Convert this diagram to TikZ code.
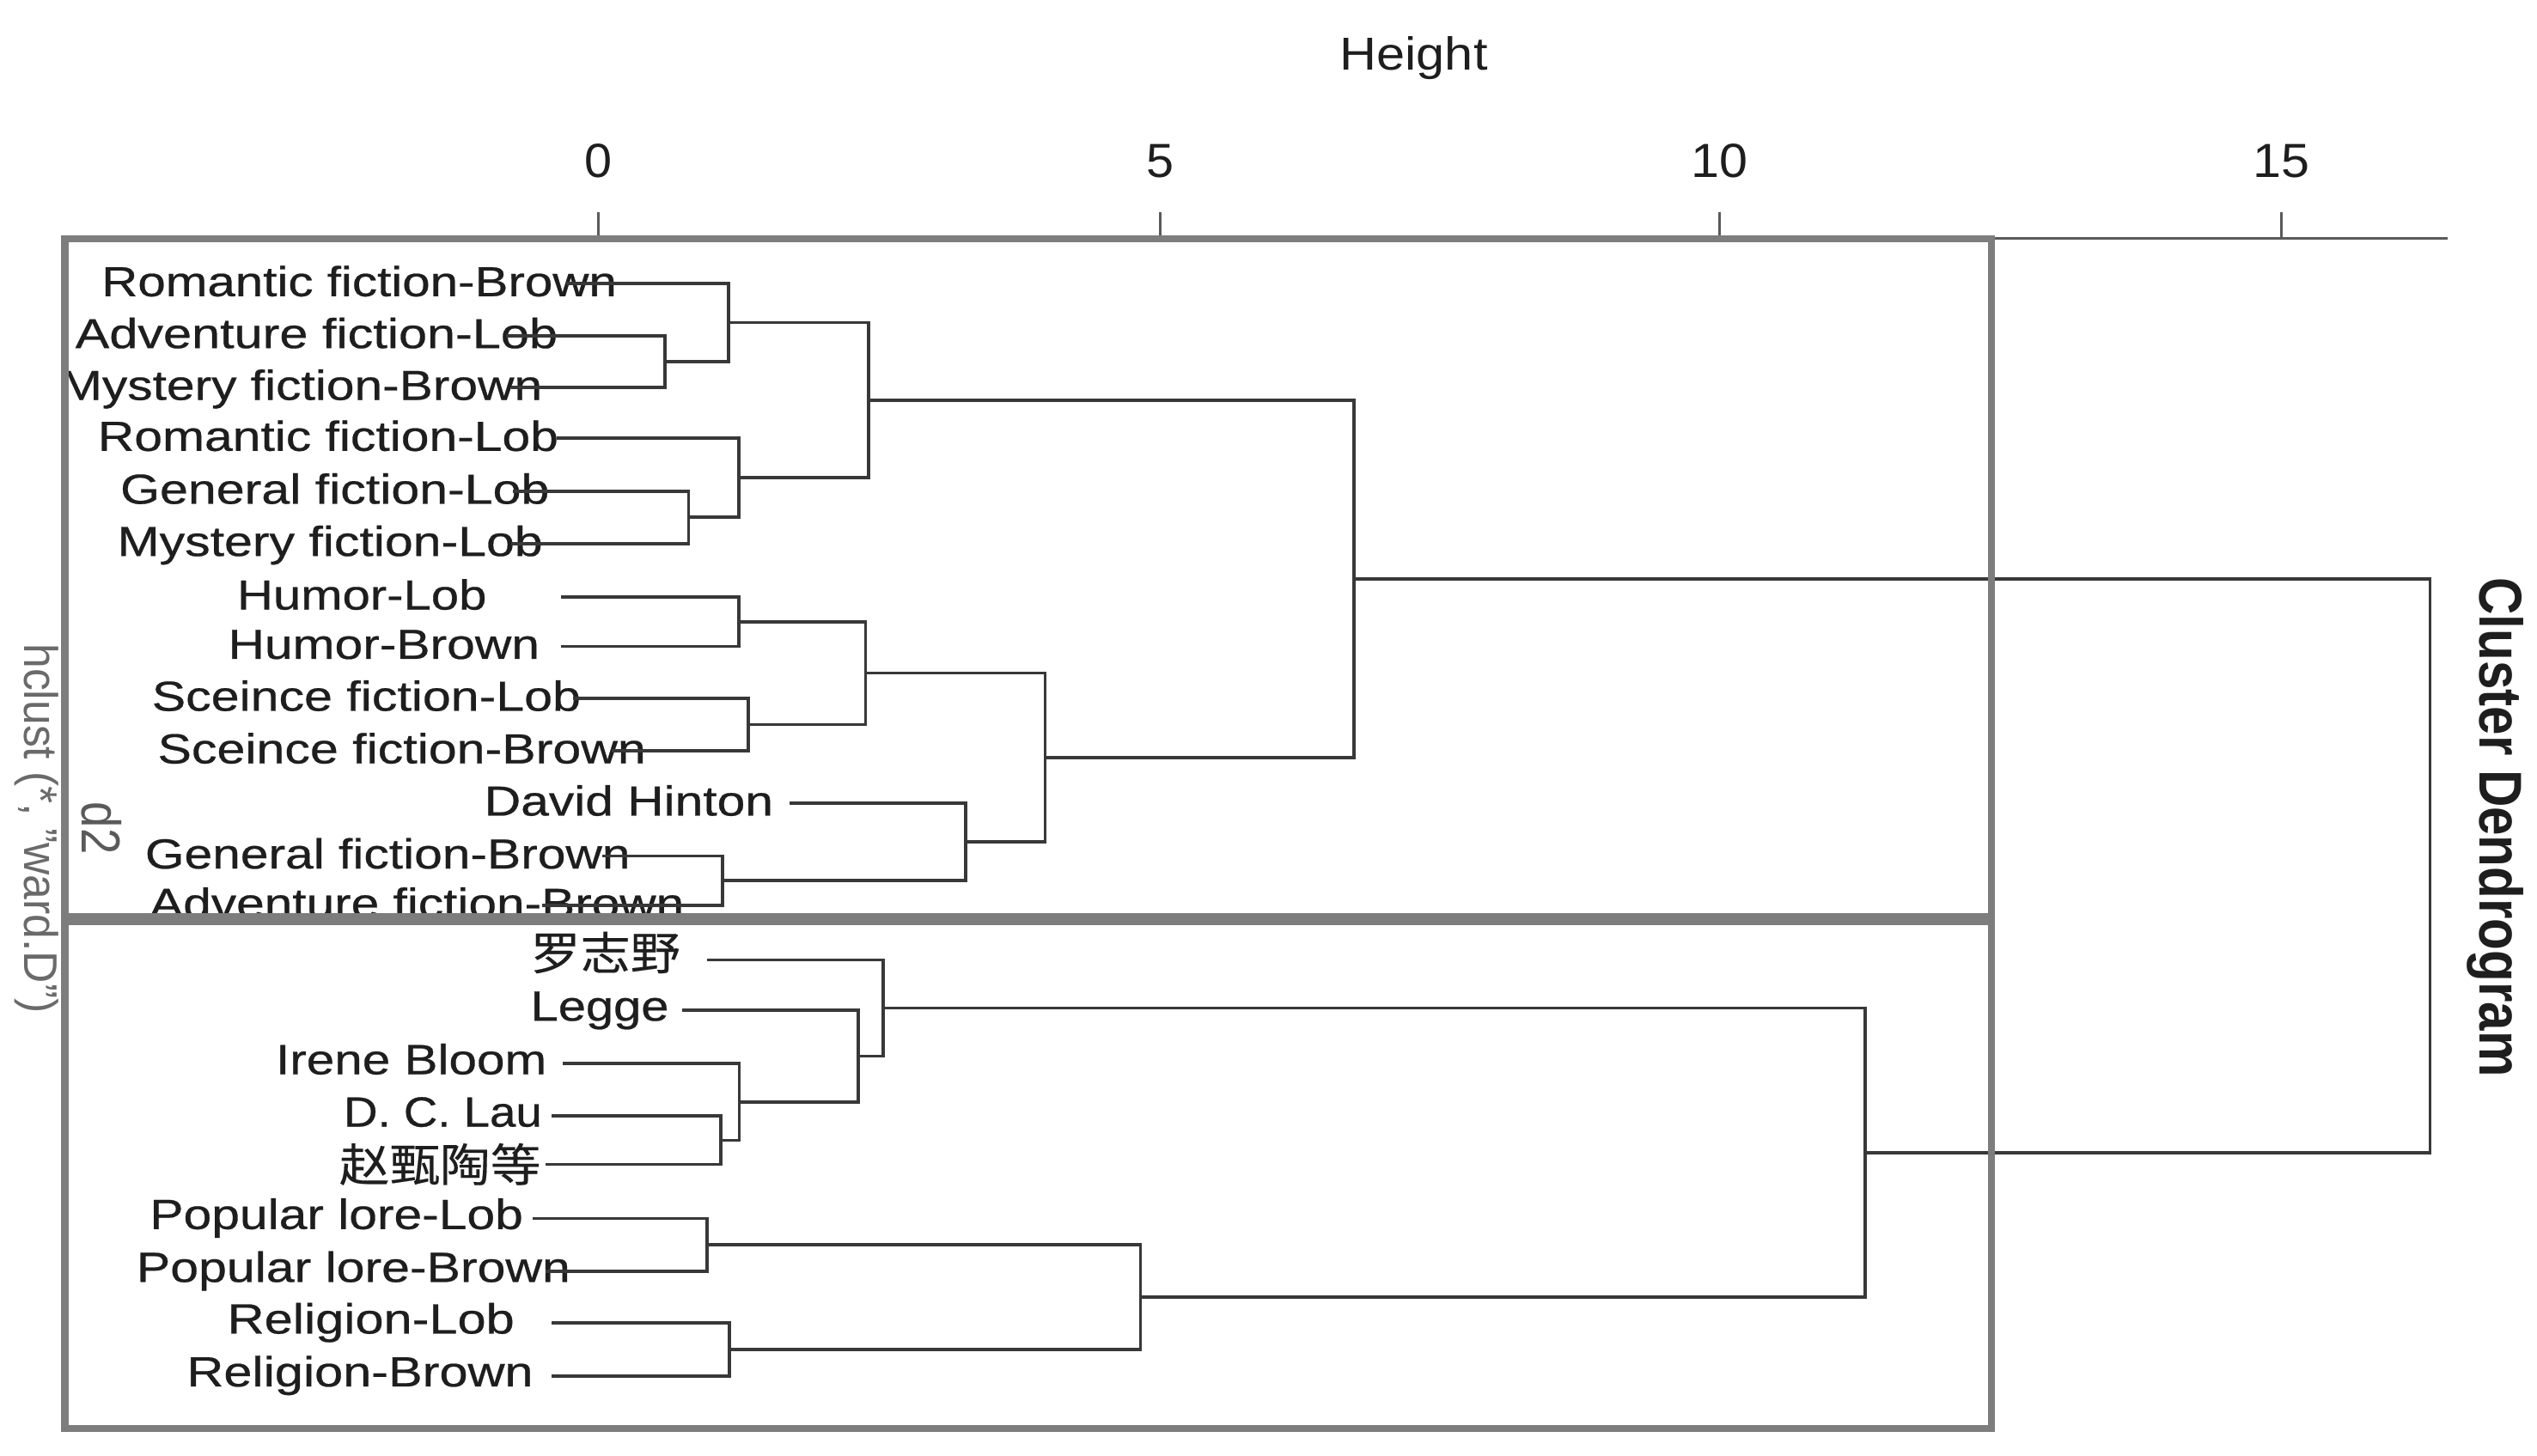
\documentclass[tikz,border=0pt]{standalone}
\usepackage{fontspec}
\usepackage{graphicx}
\setmainfont{Liberation Sans}
\newfontfamily\labfam[FakeBold=0.5]{Liberation Sans}
\newfontfamily\cjk[FakeBold=0.3]{Noto Sans CJK SC}
\usetikzlibrary{calc}
\newlength\dpx
\setlength\dpx{0.01883cm}
\newcommand\ufont{\labfam\fontsize{13.9pt}{15pt}\selectfont}
\newcommand\lfont{\labfam\fontsize{14.0pt}{16pt}\selectfont}
\newcommand\cfont{\cjk\fontsize{15pt}{17pt}\selectfont}
\definecolor{dgray}{HTML}{383838}
\definecolor{bgray}{HTML}{7D7D7D}
\definecolor{agray}{HTML}{5A5A5A}
\definecolor{tgray}{HTML}{6A6A6A}
\definecolor{txt}{HTML}{1E1E1E}
\newcommand\ulab[5]{\node[lab] (#1) at (#2,#3) {\resizebox{#4\dpx}{\height}{\ufont #5}};}
\newcommand\llab[5]{\node[lab] (#1) at (#2,#3) {\resizebox{#4\dpx}{\height}{\lfont #5}};}
\newcommand\clab[5]{\node[lab] (#1) at (#2,#3) {\resizebox{#4\dpx}{\height}{\cfont #5}};}
\newcommand\merge[3]{\draw[dline] (#2) -- (#2 -| #1) -- (#3 -| #1) -- (#3);}
\begin{document}
\begin{tikzpicture}[x=0.01883cm,y=-0.01883cm,
  lab/.style={anchor=base east,inner sep=0pt,outer sep=0pt,text=txt},
  dline/.style={draw=dgray,line width=1.05pt,line join=miter},
  boxline/.style={draw=bgray,line width=2.4pt},
  axisline/.style={draw=agray,line width=0.9pt},
  ticklab/.style={anchor=base,inner sep=0pt,text=txt}]
\useasboundingbox (0,0) rectangle (1568.2,899.6);
\fill[white] (0,0) rectangle (1568.2,899.6);

% ---------- axis ----------
\coordinate (axL) at (1231,147.5);
\coordinate (axR) at (1513,147.5);
\draw[axisline] (axL) -- (axR);
\foreach \xx/\lb/\w in {370/0/17, 717/5/17, 1063/10/35, 1410/15/35}{
  \coordinate (tk\lb) at (\xx,147.5);
  \draw[axisline] (tk\lb) -- ++(0,-16.5);
  \node[ticklab] (tl\lb) at (\xx,109.7) {\resizebox{\w\dpx}{\height}{\fontsize{15.86pt}{17pt}\selectfont \lb}};
}
\node[ticklab] (height) at (873.9,43.4) {\resizebox{91.3\dpx}{\height}{\fontsize{15.3pt}{17pt}\selectfont Height}};

% ---------- side titles ----------
\node[anchor=base,inner sep=0pt,rotate=-90,text=txt] (title) at (1533,511.4)
  {\resizebox{308.7\dpx}{1.17\height}{\bfseries\fontsize{17.1pt}{19pt}\selectfont Cluster Dendrogram}};
\node[anchor=base,inner sep=0pt,rotate=-90,text=tgray] (sub) at (15,512.2)
  {\resizebox{228.5\dpx}{1.07\height}{\fontsize{14.6pt}{16pt}\selectfont hclust (*, "ward.D")}};
\node[anchor=base,inner sep=0pt,rotate=-90,text=agray] (xl) at (50.8,512)
  {\scalebox{1}[1.17]{\fontsize{15.5pt}{17pt}\selectfont d2}};

% ---------- labels, upper box ----------
\ulab{t1}{381.3}{183.1}{318.5}{Romantic fiction-Brown}
\ulab{t2}{344.7}{215.2}{298.1}{Adventure fiction-Lob}
\ulab{t3}{335.2}{247.2}{298.0}{Mystery fiction-Brown}
\ulab{t4}{345.2}{278.7}{284.7}{Romantic fiction-Lob}
\ulab{t5}{339.6}{311.4}{265.2}{General fiction-Lob}
\ulab{t6}{335.5}{343.7}{263.0}{Mystery fiction-Lob}
\ulab{t7}{300.8}{376.8}{154.2}{Humor-Lob}
\ulab{t8}{333.5}{407.3}{192.5}{Humor-Brown}
\ulab{t9}{359.0}{439.4}{265.1}{Sceince fiction-Lob}
\ulab{t10}{399.3}{471.9}{301.8}{Sceince fiction-Brown}
\ulab{t11}{478.0}{504.2}{178.6}{David Hinton}
\ulab{t12}{389.6}{536.9}{299.9}{General fiction-Brown}
\ulab{t13}{422.9}{567.4}{330.4}{Adventure fiction-Brown}
% ---------- labels, lower box ----------
\clab{t14}{420.5}{599.5}{92.5}{罗志野}
\llab{t15}{413.4}{631.0}{85.4}{Legge}
\llab{t16}{337.9}{664.1}{167.4}{Irene Bloom}
\llab{t17}{335.0}{696.5}{122.5}{D. C. Lau}
\clab{t18}{334.3}{730.4}{124.6}{赵甄陶等}
\llab{t19}{323.4}{759.8}{230.8}{Popular lore-Lob}
\llab{t20}{352.6}{792.5}{268.2}{Popular lore-Brown}
\llab{t21}{318.0}{824.4}{177.4}{Religion-Lob}
\llab{t22}{329.6}{857.1}{214.1}{Religion-Brown}

% ---------- leaf starts ----------
\coordinate (l1) at (350,175.4);
\coordinate (l2) at (313,207.5);
\coordinate (l3) at (316,239.5);
\coordinate (l4) at (344,271);
\coordinate (l5) at (317,303.7);
\coordinate (l6) at (316,336);
\coordinate (l7) at (347,369.1);
\coordinate (l8) at (347,399.6);
\coordinate (l9) at (354,431.7);
\coordinate (l10) at (378,464.2);
\coordinate (l11) at (488,496.5);
\coordinate (l12) at (372,529.2);
\coordinate (l13) at (335,559.7);
\coordinate (l14) at (437,593.4);
\coordinate (l15) at (421.7,624.5);
\coordinate (l16) at (348,657.6);
\coordinate (l17) at (341,690);
\coordinate (l18) at (337,719.8);
\coordinate (l19) at (329,753.3);
\coordinate (l20) at (337,786);
\coordinate (l21) at (341,817.9);
\coordinate (l22) at (341,850.6);

% ---------- merge points ----------
\coordinate (a23) at (411,223.5);
\coordinate (a1) at (450.5,199.45);
\coordinate (a56) at (425.7,319.85);
\coordinate (a4) at (456.8,295.4);
\coordinate (aT) at (537,247.4);
\coordinate (a78) at (456.8,384.35);
\coordinate (a910) at (462.4,447.95);
\coordinate (aH) at (535,416.15);
\coordinate (a1213) at (446.6,544.45);
\coordinate (aD) at (597,520.5);
\coordinate (aM) at (646,468.3);
\coordinate (aU) at (837,357.85);
\coordinate (b1718) at (445.4,704.9);
\coordinate (b16) at (457,681.25);
\coordinate (b15) at (530.5,652.9);
\coordinate (b14) at (546,623.15);
\coordinate (b1920) at (437,769.65);
\coordinate (b2122) at (451,834.25);
\coordinate (bP) at (705,801.95);
\coordinate (bL) at (1153,712.55);
\coordinate (root) at (1502,535.2);

% ---------- dendrogram ----------
\merge{a23}{l2}{l3}
\merge{a1}{l1}{a23}
\merge{a56}{l5}{l6}
\merge{a4}{l4}{a56}
\merge{aT}{a1}{a4}
\merge{a78}{l7}{l8}
\merge{a910}{l9}{l10}
\merge{aH}{a78}{a910}
\merge{a1213}{l12}{l13}
\merge{aD}{l11}{a1213}
\merge{aM}{aH}{aD}
\merge{aU}{aT}{aM}
\merge{b1718}{l17}{l18}
\merge{b16}{l16}{b1718}
\merge{b15}{l15}{b16}
\merge{b14}{l14}{b15}
\merge{b1920}{l19}{l20}
\merge{b2122}{l21}{l22}
\merge{bP}{b1920}{b2122}
\merge{bL}{b14}{bP}
\merge{root}{aU}{bL}

% ---------- boxes ----------
\draw[boxline] (40,147.5) rectangle (1231,567);
\draw[boxline] (40,569.5) rectangle (1231,883);
\end{tikzpicture}
\end{document}
